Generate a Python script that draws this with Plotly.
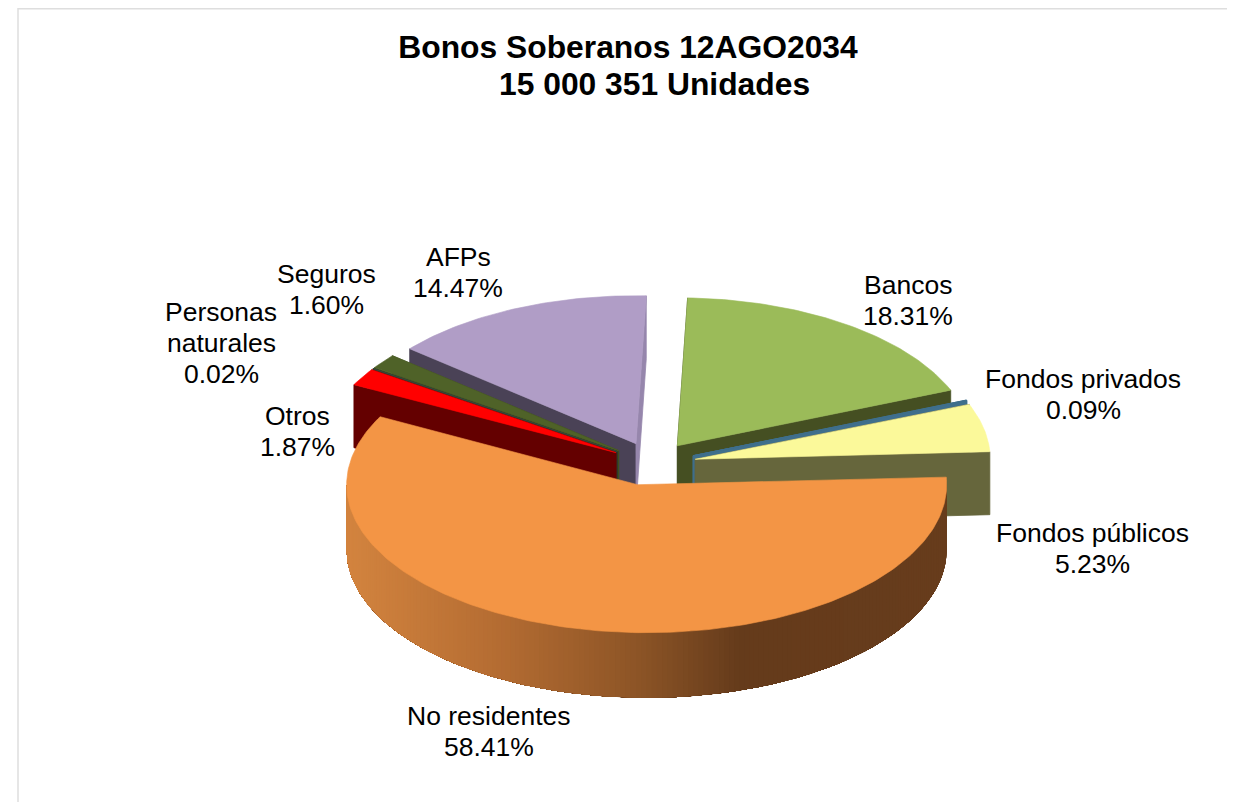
import math
import plotly.graph_objects as go

# ---- data ----
categories = ["Bancos", "Fondos privados", "Fondos públicos", "No residentes",
              "Otros", "Personas naturales", "Seguros", "AFPs"]
shares = [18.31, 0.09, 5.23, 58.41, 1.87, 0.02, 1.60, 14.47]
title_lines = ["Bonos Soberanos 12AGO2034", "15 000 351 Unidades"]

# ---- style ----
top_colors = ["#9BBB59", "#3F6F8C", "#FBF99A", "#F39545", "#FF0000", "#3A4A3A", "#4F6228", "#B09DC6"]
wall_colors = ["#454F22", "#3F6F8C", "#66663C", "#6A3F1C", "#640000", "#2E3B2E", "#3F4F20", "#4A4256"]
end_wall_colors = ["#454F22", "#3F6F8C", "#66663C", "#6A3F1C", "#640000", "#2E3B2E", "#3F4F20", "#9686AC"]
label_lines = {
    "Personas naturales": ["Personas", "naturales"],
}
label_pos = {  # centre of the label block
    "Bancos": (908, 300), "Fondos privados": (1083, 394), "Fondos públicos": (1092, 548),
    "No residentes": (489, 731), "Otros": (297, 431), "Personas naturales": (221, 343),
    "Seguros": (326, 289), "AFPs": (458, 272),
}
x_nudge = {"AFPs": 3, "Seguros": 3, "Personas naturales": 3, "Otros": 3,
           "Bancos": 1, "Fondos privados": 1, "Fondos públicos": 1, "No residentes": 0}
FONT = "Liberation Sans, Arial, sans-serif"
LABEL_SIZE = 26.5
LABEL_LEADING = 31
TITLE_SIZE = 31.8
PAGE = 8               # the page body offsets the figure by this many pixels
START_ANGLE = 2.0      # degrees clockwise from the top
CX, CY = 651, 464      # centre of the unexploded pie on the page axes
RX, RY = 295, 148      # ellipse radii of the tilted disc
DEPTH = 63
EXPLODE = 0.15
ORANGE = "No residentes"
gradient = [(346, (211, 132, 63)), (500, (180, 108, 50)), (640, (140, 84, 38)),
            (740, (101, 59, 27)), (950, (103, 60, 28))]


def wall_color(x):
    for (x0, c0), (x1, c1) in zip(gradient, gradient[1:]):
        if x <= x1:
            t = max(0, (x - x0) / (x1 - x0))
            return "rgb(%d,%d,%d)" % tuple(round(a + (b - a) * t) for a, b in zip(c0, c1))
    return "rgb(%d,%d,%d)" % gradient[-1][1]


def frange(a, b, step):
    n = max(1, int(math.ceil((b - a) / step)))
    return [a + (b - a) * i / n for i in range(n + 1)]


fig = go.Figure()


def poly(xs, ys, color, name, lw=0.8):
    fig.add_trace(go.Scatter(
        x=xs + xs[:1], y=ys + ys[:1], mode="lines", fill="toself", fillcolor=color,
        line=dict(color=color, width=lw), name=name, hoverinfo="name",
        showlegend=False))


# angular extent of each slice from the values
slices = {}
acc = START_ANGLE
for cat, v, tc, wc, ewc in zip(categories, shares, top_colors, wall_colors, end_wall_colors):
    a0, a1 = acc, acc + v * 3.6
    acc = a1
    mid = math.radians((a0 + a1) / 2)
    ox = CX + EXPLODE * RX * math.sin(mid) + x_nudge[cat]
    oy = CY - EXPLODE * RY * math.cos(mid)
    slices[cat] = dict(a0=a0, a1=a1, ox=ox, oy=oy, top=tc, wall=wc, endwall=ewc)

# painter's order: back slices first, the big front slice last
order = ["AFPs", "Seguros", "Personas naturales", "Otros", "Bancos",
         "Fondos privados", "Fondos públicos", "No residentes"]

for cat in order:
    s = slices[cat]
    ox, oy = s["ox"], s["oy"]
    rx = RX
    apex_x = ox
    depth = DEPTH
    if cat == ORANGE:        # the front slice looks slightly wider in perspective
        ox, rx = ox + 5, RX + 5
        apex_x = ox - 9
        oy = oy - 1
        depth = DEPTH + 2

    def pt(a):
        r = math.radians(a)
        return ox + rx * math.sin(r), oy - RY * math.cos(r)

    # cut faces
    if cat != ORANGE:
        for ang, col in ((s["a0"], s["wall"]), (s["a1"], s["endwall"])):
            px, py = pt(ang)
            poly([apex_x, px, px, apex_x], [oy, py, py + depth, oy + depth], col, cat)
    # rim with gradient on the front slice: each band is laid over the rest of the
    # rim still to come, so neighbouring bands leave no seam between them
    if cat == ORANGE:
        angs = frange(s["a0"], 270, 1)
        for a in angs[:-1]:
            rest = frange(a, 270, 2)
            pts = [pt(t) for t in rest]
            xs = [p[0] for p in pts]
            c = wall_color(pt(a + 0.5)[0])
            poly(xs + xs[::-1], [p[1] for p in pts] + [p[1] + depth for p in pts[::-1]],
                 c, cat, lw=0)
    # top face
    arc = [pt(a) for a in frange(s["a0"], s["a1"], 1)]
    poly([apex_x] + [p[0] for p in arc], [oy] + [p[1] for p in arc], s["top"], cat,
         lw=1 if cat == "Fondos privados" else 0.6)

# data labels, line by line so the leading matches
annotations = []
for cat, v in zip(categories, shares):
    x, y = label_pos[cat]
    lines = label_lines.get(cat, [cat]) + ["%.2f%%" % v]
    y0 = y - LABEL_LEADING * (len(lines) - 1) / 2
    for i, line in enumerate(lines):
        annotations.append(dict(
            x=x, y=y0 + i * LABEL_LEADING, xref="x", yref="y", showarrow=False,
            align="center", text=line,
            font=dict(family=FONT, size=LABEL_SIZE, color="#000000")))
annotations.append(dict(
    x=654, y=84, xref="x", yref="y", showarrow=False, text=title_lines[1],
    font=dict(family=FONT, size=TITLE_SIZE, color="#000000", weight="bold")))

fig.update_layout(
    width=1235, height=802, autosize=False,
    margin=dict(l=0, r=0, t=0, b=0),
    paper_bgcolor="white", plot_bgcolor="white",
    showlegend=False,
    title=dict(
        text=title_lines[0],
        x=(628 - PAGE) / 1235, xanchor="center", y=1 - (47 - PAGE) / 802, yanchor="middle",
        font=dict(family=FONT, size=TITLE_SIZE, color="#000000", weight="bold")),
    xaxis=dict(range=[PAGE, 1235 + PAGE], visible=False, fixedrange=True),
    yaxis=dict(range=[802 + PAGE, PAGE], visible=False, fixedrange=True),
    annotations=annotations,
    shapes=[
        dict(type="line", xref="x", yref="y", x0=18, x1=1243, y0=8.7, y1=8.7,
             line=dict(color="#DEDEDE", width=1.5)),
        dict(type="line", xref="x", yref="y", x0=18, x1=18, y0=8, y1=810,
             line=dict(color="#DEDEDE", width=1.5)),
    ],
)
fig.write_html("out.html", config=dict(displayModeBar=False))
